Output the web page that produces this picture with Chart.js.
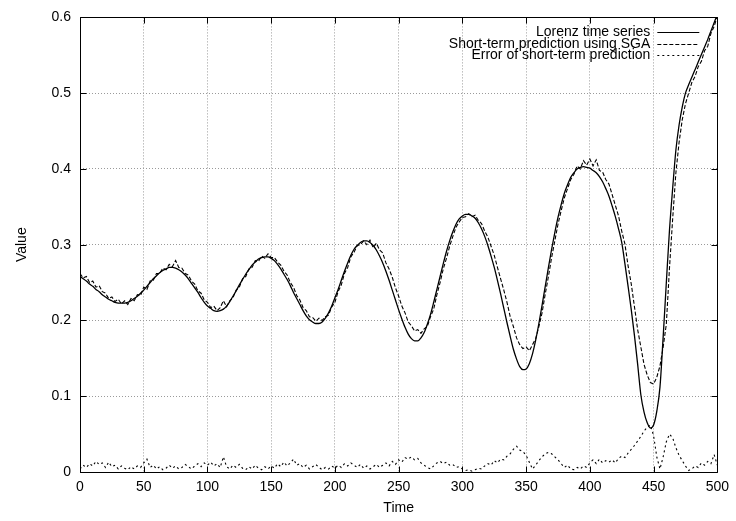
<!DOCTYPE html>
<html>
<head>
<meta charset="utf-8">
<title>Lorenz time series prediction</title>
<script src="https://cdn.jsdelivr.net/npm/chart.js@4.4.1/dist/chart.umd.min.js"></script>
<style>
  html, body { margin: 0; padding: 0; background: #ffffff; }
  #wrap { width: 736px; height: 521px; }
</style>
</head>
<body>
<div id="wrap"><canvas id="chart" width="736" height="521"></canvas></div>
<script>
// Sample times (one sample every 2.5 time units)
const times = [
  0, 2.5, 5, 7.5, 10, 12.5, 15, 17.5, 20, 22.5,
  25, 27.5, 30, 32.5, 35, 37.5, 40, 42.5, 45, 47.5,
  50, 52.5, 55, 57.5, 60, 62.5, 65, 67.5, 70, 72.5,
  75, 77.5, 80, 82.5, 85, 87.5, 90, 92.5, 95, 97.5,
  100, 102.5, 105, 107.5, 110, 112.5, 115, 117.5, 120, 122.5,
  125, 127.5, 130, 132.5, 135, 137.5, 140, 142.5, 145, 147.5,
  150, 152.5, 155, 157.5, 160, 162.5, 165, 167.5, 170, 172.5,
  175, 177.5, 180, 182.5, 185, 187.5, 190, 192.5, 195, 197.5,
  200, 202.5, 205, 207.5, 210, 212.5, 215, 217.5, 220, 222.5,
  225, 227.5, 230, 232.5, 235, 237.5, 240, 242.5, 245, 247.5,
  250, 252.5, 255, 257.5, 260, 262.5, 265, 267.5, 270, 272.5,
  275, 277.5, 280, 282.5, 285, 287.5, 290, 292.5, 295, 297.5,
  300, 302.5, 305, 307.5, 310, 312.5, 315, 317.5, 320, 322.5,
  325, 327.5, 330, 332.5, 335, 337.5, 340, 342.5, 345, 347.5,
  350, 352.5, 355, 357.5, 360, 362.5, 365, 367.5, 370, 372.5,
  375, 377.5, 380, 382.5, 385, 387.5, 390, 392.5, 395, 397.5,
  400, 402.5, 405, 407.5, 410, 412.5, 415, 417.5, 420, 422.5,
  425, 427.5, 430, 432.5, 435, 437.5, 440, 442.5, 445, 447.5,
  450, 452.5, 455, 457.5, 460, 462.5, 465, 467.5, 470, 472.5,
  475, 477.5, 480, 482.5, 485, 487.5, 490, 492.5, 495, 497.5,
  500
];

// Lorenz time series (reference signal)
const lorenz = [
  0.258, 0.255, 0.252, 0.248, 0.245, 0.241, 0.238, 0.234, 0.231, 0.228,
  0.226, 0.224, 0.223, 0.223, 0.223, 0.224, 0.226, 0.229, 0.232, 0.236,
  0.240, 0.245, 0.250, 0.255, 0.259, 0.263, 0.266, 0.268, 0.270, 0.270,
  0.269, 0.267, 0.264, 0.260, 0.255, 0.249, 0.243, 0.237, 0.230, 0.224,
  0.219, 0.216, 0.213, 0.212, 0.213, 0.215, 0.219, 0.225, 0.232, 0.239,
  0.247, 0.254, 0.261, 0.267, 0.273, 0.277, 0.281, 0.283, 0.284, 0.284,
  0.282, 0.279, 0.274, 0.268, 0.261, 0.254, 0.246, 0.237, 0.229, 0.221,
  0.213, 0.206, 0.201, 0.198, 0.196, 0.196, 0.198, 0.203, 0.210, 0.219,
  0.230, 0.241, 0.253, 0.265, 0.276, 0.286, 0.294, 0.299, 0.303, 0.305,
  0.305, 0.303, 0.299, 0.293, 0.285, 0.276, 0.265, 0.253, 0.240, 0.227,
  0.214, 0.202, 0.191, 0.182, 0.176, 0.173, 0.173, 0.177, 0.184, 0.195,
  0.208, 0.224, 0.241, 0.258, 0.275, 0.291, 0.305, 0.317, 0.327, 0.334,
  0.338, 0.340, 0.340, 0.338, 0.335, 0.329, 0.321, 0.311, 0.299, 0.285,
  0.270, 0.253, 0.235, 0.216, 0.197, 0.179, 0.162, 0.149, 0.139, 0.135,
  0.136, 0.143, 0.156, 0.174, 0.196, 0.220, 0.245, 0.270, 0.294, 0.316,
  0.336, 0.353, 0.368, 0.379, 0.389, 0.395, 0.400, 0.402, 0.403, 0.402,
  0.401, 0.398, 0.395, 0.390, 0.383, 0.374, 0.364, 0.351, 0.337, 0.321,
  0.303, 0.275, 0.245, 0.214, 0.180, 0.142, 0.102, 0.079, 0.065, 0.058,
  0.062, 0.080, 0.112, 0.178, 0.250, 0.320, 0.375, 0.425, 0.458, 0.482,
  0.500, 0.511, 0.521, 0.531, 0.541, 0.551, 0.561, 0.571, 0.582, 0.593,
  0.604
];

// Short-term prediction using SGA
const prediction = [
  0.262, 0.256, 0.258, 0.250, 0.252, 0.244, 0.246, 0.238, 0.236, 0.229,
  0.231, 0.225, 0.228, 0.222, 0.226, 0.221, 0.229, 0.226, 0.234, 0.233,
  0.244, 0.241, 0.252, 0.253, 0.262, 0.262, 0.269, 0.267, 0.274, 0.271,
  0.279, 0.270, 0.269, 0.262, 0.260, 0.252, 0.248, 0.239, 0.236, 0.227,
  0.224, 0.217, 0.219, 0.213, 0.217, 0.226, 0.218, 0.226, 0.230, 0.240,
  0.244, 0.255, 0.258, 0.268, 0.270, 0.279, 0.278, 0.285, 0.282, 0.288,
  0.283, 0.283, 0.277, 0.273, 0.265, 0.260, 0.250, 0.244, 0.233, 0.227,
  0.217, 0.213, 0.205, 0.204, 0.199, 0.203, 0.200, 0.205, 0.207, 0.218,
  0.224, 0.238, 0.247, 0.262, 0.270, 0.284, 0.290, 0.299, 0.300, 0.305,
  0.300, 0.306, 0.296, 0.302, 0.293, 0.289, 0.276, 0.268, 0.257, 0.243,
  0.232, 0.219, 0.210, 0.198, 0.193, 0.186, 0.188, 0.183, 0.189, 0.192,
  0.205, 0.215, 0.234, 0.250, 0.268, 0.282, 0.298, 0.311, 0.323, 0.330,
  0.336, 0.337, 0.341, 0.337, 0.339, 0.332, 0.328, 0.318, 0.310, 0.298,
  0.286, 0.270, 0.255, 0.240, 0.224, 0.205, 0.192, 0.177, 0.168, 0.163,
  0.165, 0.160, 0.168, 0.176, 0.192, 0.210, 0.235, 0.258, 0.283, 0.305,
  0.327, 0.345, 0.362, 0.374, 0.386, 0.393, 0.404, 0.400, 0.411, 0.405,
  0.413, 0.404, 0.412, 0.398, 0.396, 0.386, 0.380, 0.366, 0.352, 0.338,
  0.318, 0.301, 0.272, 0.248, 0.218, 0.188, 0.165, 0.142, 0.128, 0.118,
  0.116, 0.125, 0.140, 0.165, 0.195, 0.270, 0.335, 0.395, 0.435, 0.465,
  0.486, 0.500, 0.514, 0.522, 0.535, 0.542, 0.556, 0.562, 0.579, 0.588,
  0.602
];

// Error of short-term prediction
const predError = [
  0.004, 0.009, 0.006, 0.011, 0.008, 0.014, 0.010, 0.012, 0.006, 0.013,
  0.007, 0.009, 0.004, 0.008, 0.005, 0.003, 0.007, 0.004, 0.008, 0.006,
  0.012, 0.017, 0.006, 0.009, 0.004, 0.007, 0.003, 0.005, 0.009, 0.005,
  0.008, 0.004, 0.006, 0.010, 0.007, 0.004, 0.008, 0.011, 0.007, 0.012,
  0.009, 0.013, 0.008, 0.011, 0.006, 0.020, 0.007, 0.004, 0.009, 0.006,
  0.010, 0.005, 0.003, 0.007, 0.004, 0.009, 0.005, 0.003, 0.007, 0.004,
  0.008, 0.005, 0.011, 0.007, 0.013, 0.008, 0.012, 0.017, 0.009, 0.011,
  0.006, 0.009, 0.004, 0.007, 0.010, 0.006, 0.003, 0.006, 0.004, 0.008,
  0.005, 0.009, 0.006, 0.011, 0.008, 0.012, 0.009, 0.006, 0.010, 0.005,
  0.008, 0.004, 0.007, 0.010, 0.006, 0.009, 0.012, 0.008, 0.014, 0.010,
  0.016, 0.013, 0.019, 0.017, 0.020, 0.016, 0.018, 0.012, 0.009, 0.006,
  0.004, 0.008, 0.012, 0.014, 0.011, 0.013, 0.009, 0.010, 0.006, 0.007,
  0.004, 0.002, 0.003, 0.001, 0.003, 0.005, 0.004, 0.008, 0.011, 0.009,
  0.015, 0.012, 0.017, 0.016, 0.021, 0.024, 0.030, 0.034, 0.029, 0.027,
  0.022, 0.013, 0.004, 0.009, 0.015, 0.020, 0.024, 0.026, 0.024, 0.020,
  0.016, 0.011, 0.006, 0.009, 0.004, 0.003, 0.006, 0.004, 0.008, 0.006,
  0.012, 0.016, 0.011, 0.017, 0.012, 0.015, 0.013, 0.016, 0.012, 0.018,
  0.021, 0.019, 0.025, 0.030, 0.035, 0.041, 0.047, 0.054, 0.059, 0.062,
  0.048, 0.020, 0.004, 0.020, 0.040, 0.050, 0.045, 0.032, 0.022, 0.015,
  0.008, 0.002, 0.004, 0.008, 0.006, 0.012, 0.009, 0.014, 0.011, 0.023,
  0.009
];

const seriesNames = [
  'Lorenz time series',
  'Short-term prediction using SGA',
  'Error of short-term prediction'
];
const xTicks = [0, 50, 100, 150, 200, 250, 300, 350, 400, 450, 500];
const yTicks = [0, 0.1, 0.2, 0.3, 0.4, 0.5, 0.6];
const xTitle = 'Time';
const yTitle = 'Value';

const FONT = '"Liberation Sans", Arial, Helvetica, sans-serif';
const FONT_SIZE = 14;

function pairs(values) {
  return times.map((t, i) => ({ x: t, y: values[i] }));
}

// Frame, inward tick marks on all four sides, axis titles and key
const framePlugin = {
  id: 'gnuplotFrame',
  afterDatasetsDraw(chart) {
    const ctx = chart.ctx;
    const a = chart.chartArea;
    const xs = chart.scales.x;
    const ys = chart.scales.y;
    const L = Math.round(a.left) + 0.5, R = Math.round(a.right) + 0.5;
    const T = Math.round(a.top) + 0.5, B = Math.round(a.bottom) + 0.5;
    const tick = 6;
    ctx.save();
    ctx.strokeStyle = '#000';
    ctx.lineWidth = 1;
    ctx.setLineDash([]);
    ctx.beginPath();
    ctx.rect(L, T, R - L, B - T);
    xTicks.forEach(v => {
      const px = Math.round(xs.getPixelForValue(v)) + 0.5;
      ctx.moveTo(px, B); ctx.lineTo(px, B - tick);
      ctx.moveTo(px, T); ctx.lineTo(px, T + tick);
    });
    yTicks.forEach(v => {
      const py = Math.round(ys.getPixelForValue(v)) + 0.5;
      ctx.moveTo(L, py); ctx.lineTo(L + tick, py);
      ctx.moveTo(R, py); ctx.lineTo(R - tick, py);
    });
    ctx.stroke();

    // axis titles
    ctx.fillStyle = '#000';
    ctx.font = FONT_SIZE + 'px ' + FONT;
    ctx.textAlign = 'center';
    ctx.textBaseline = 'middle';
    ctx.fillText(xTitle, (a.left + a.right) / 2, 508);
    ctx.save();
    ctx.translate(22, (a.top + a.bottom) / 2);
    ctx.rotate(-Math.PI / 2);
    ctx.fillText(yTitle, 0, 0);
    ctx.restore();

    // key, top right inside the plot
    const textRight = a.right - 67;
    const sampleL = a.right - 60, sampleR = a.right - 18;
    chart.data.datasets.forEach((ds, i) => {
      const y = Math.round(a.top + 15 + i * 11.5);
      ctx.textAlign = 'right';
      ctx.textBaseline = 'middle';
      ctx.fillStyle = '#000';
      ctx.fillText(ds.label, textRight, y);
      ctx.beginPath();
      ctx.setLineDash(ds.borderDash || []);
      ctx.lineWidth = 1;
      ctx.strokeStyle = ds.borderColor;
      ctx.moveTo(sampleL, y + 0.5);
      ctx.lineTo(sampleR, y + 0.5);
      ctx.stroke();
    });
    ctx.restore();
  }
};

const gridColor = '#9a9a9a';

new Chart(document.getElementById('chart'), {
  type: 'line',
  data: {
    datasets: [
      {
        label: seriesNames[0],
        data: pairs(lorenz),
        borderColor: '#000',
        borderWidth: 1.3,
        borderDash: [],
        cubicInterpolationMode: 'monotone',
        pointRadius: 0,
        fill: false
      },
      {
        label: seriesNames[1],
        data: pairs(prediction),
        borderColor: '#000',
        borderWidth: 1.1,
        borderDash: [4, 2],
        tension: 0,
        pointRadius: 0,
        fill: false
      },
      {
        label: seriesNames[2],
        data: pairs(predError),
        borderColor: '#000',
        borderWidth: 1.1,
        borderDash: [2, 3],
        tension: 0,
        pointRadius: 0,
        fill: false
      }
    ]
  },
  options: {
    responsive: false,
    animation: false,
    devicePixelRatio: 1,
    layout: { padding: { top: 16, right: 16, left: 0, bottom: 0 } },
    plugins: {
      legend: { display: false },
      tooltip: { enabled: false },
      title: { display: false }
    },
    scales: {
      x: {
        type: 'linear',
        min: 0,
        max: 500,
        afterBuildTicks: s => { s.ticks = xTicks.map(v => ({ value: v })); },
        afterFit: s => { s.height = 49; },
        ticks: {
          color: '#000',
          font: { family: FONT, size: FONT_SIZE },
          padding: 7,
          maxRotation: 0,
          autoSkip: false
        },
        grid: { color: gridColor, lineWidth: 1, drawTicks: false },
        border: { display: false, dash: [1, 2] }
      },
      y: {
        type: 'linear',
        min: 0,
        max: 0.6,
        afterBuildTicks: s => { s.ticks = yTicks.map(v => ({ value: v })); },
        afterFit: s => { s.width = 80; },
        ticks: {
          color: '#000',
          font: { family: FONT, size: FONT_SIZE },
          padding: 9,
          callback: v => (v === 0 ? '0' : v.toFixed(1))
        },
        grid: { color: gridColor, lineWidth: 1, drawTicks: false },
        border: { display: false, dash: [1, 2] }
      }
    }
  },
  plugins: [framePlugin]
});
</script>
</body>
</html>
